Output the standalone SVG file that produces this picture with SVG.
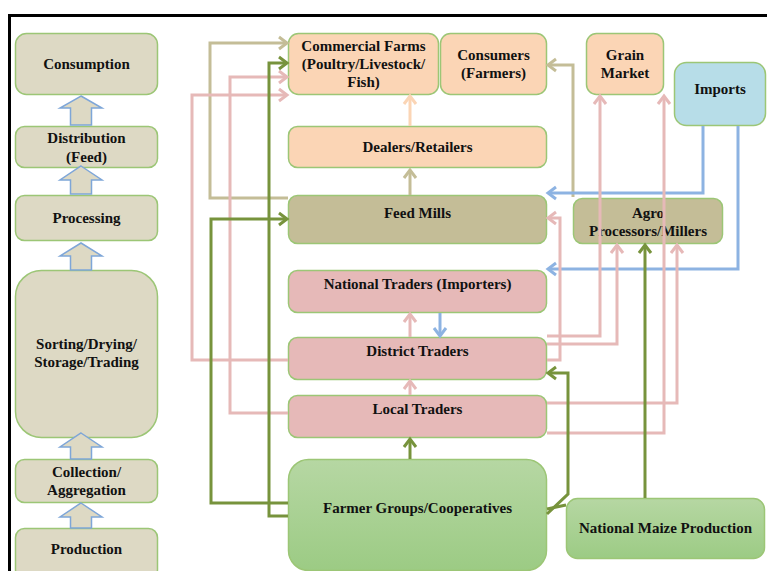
<svg xmlns="http://www.w3.org/2000/svg" width="767" height="571" viewBox="0 0 767 571">
<defs>
<style>
text{font-family:"Liberation Serif","Times New Roman",serif;font-weight:bold;font-size:15px;fill:#111;text-anchor:middle}
.n{stroke:#9cc676;stroke-width:1.5}
.stage{fill:#ddd9c4}
.peach{fill:#fbd5b5}
.pink{fill:#e6b9b8}
.tan{fill:#c4bd97}
.blue{fill:#b7dde8}
.grn{fill:url(#gg)}
.blk{fill:#ddd9c4;stroke:#7ea6d8;stroke-width:1.5}
.c{fill:none;stroke-width:3;stroke-linejoin:miter}
.ct{stroke:#c4bd97}
.cg{stroke:#77933c}
.cp{stroke:#e6b9b8}
.cb{stroke:#8db3e2}
.cpe{stroke:#fbd5b5}
</style>
<linearGradient id="gg" x1="0" y1="0" x2="0" y2="1">
<stop offset="0" stop-color="#b6d7a3"/>
<stop offset="1" stop-color="#9ccb84"/>
</linearGradient>
<marker id="at" markerUnits="userSpaceOnUse" markerWidth="16" markerHeight="16" viewBox="0 0 16 16" refX="13" refY="8" orient="auto"><path d="M5,2 L13,8 L5,14" fill="none" stroke="#c4bd97" stroke-width="3"/></marker>
<marker id="ag" markerUnits="userSpaceOnUse" markerWidth="16" markerHeight="16" viewBox="0 0 16 16" refX="13" refY="8" orient="auto"><path d="M5,2 L13,8 L5,14" fill="none" stroke="#77933c" stroke-width="3"/></marker>
<marker id="ap" markerUnits="userSpaceOnUse" markerWidth="16" markerHeight="16" viewBox="0 0 16 16" refX="13" refY="8" orient="auto"><path d="M5,2 L13,8 L5,14" fill="none" stroke="#e6b9b8" stroke-width="3"/></marker>
<marker id="ab" markerUnits="userSpaceOnUse" markerWidth="16" markerHeight="16" viewBox="0 0 16 16" refX="13" refY="8" orient="auto"><path d="M5,2 L13,8 L5,14" fill="none" stroke="#8db3e2" stroke-width="3"/></marker>
<marker id="ape" markerUnits="userSpaceOnUse" markerWidth="16" markerHeight="16" viewBox="0 0 16 16" refX="13" refY="8" orient="auto"><path d="M5,2 L13,8 L5,14" fill="none" stroke="#fbd5b5" stroke-width="3"/></marker>
</defs>
<rect width="767" height="571" fill="#fff"/>
<path d="M9.5,571 V15.5 H767" fill="none" stroke="#000" stroke-width="3"/>

<g id="stages">
<g id="consumption"><rect class="n stage" x="15.5" y="33.5" width="142" height="61" rx="11"/><text x="86.5" y="69">Consumption</text></g>
<g id="distribution"><rect class="n stage" x="15.5" y="126.5" width="142" height="41" rx="9"/><text x="86.5" y="143">Distribution</text><text x="86.5" y="162">(Feed)</text></g>
<g id="processing"><rect class="n stage" x="15.5" y="195.5" width="142" height="45" rx="9"/><text x="86.5" y="223">Processing</text></g>
<g id="sorting"><rect class="n stage" x="15.5" y="270.5" width="142" height="167" rx="26"/><text x="86.5" y="349">Sorting/Drying/</text><text x="86.5" y="367">Storage/Trading</text></g>
<g id="collection"><rect class="n stage" x="15.5" y="459.5" width="142" height="43" rx="9"/><text x="86.5" y="477">Collection/</text><text x="86.5" y="495">Aggregation</text></g>
<g id="production"><rect class="n stage" x="15.5" y="528.5" width="142" height="50" rx="9"/><text x="86.5" y="554">Production</text></g>
</g>
<g id="stage-arrows">
<path class="blk" d="M81,96 L102,108 L91.5,108 L91.5,125 L70.5,125 L70.5,108 L60,108 Z"/>
<path class="blk" d="M81,166 L102,180 L91.5,180 L91.5,194 L70.5,194 L70.5,180 L60,180 Z"/>
<path class="blk" d="M81,243 L102,256 L91.5,256 L91.5,270 L70.5,270 L70.5,256 L60,256 Z"/>
<path class="blk" d="M81,433 L102,447 L91.5,447 L91.5,459 L70.5,459 L70.5,447 L60,447 Z"/>
<path class="blk" d="M81,503 L102,517 L91.5,517 L91.5,528 L70.5,528 L70.5,517 L60,517 Z"/>
</g>

<g id="commercial-farms"><rect class="n peach" x="288.5" y="33.5" width="150" height="61" rx="10"/><text x="363.5" y="51">Commercial Farms</text><text x="363.5" y="69">(Poultry/Livestock/</text><text x="363.5" y="87">Fish)</text></g>
<g id="consumers"><rect class="n peach" x="440.5" y="33.5" width="106" height="61" rx="10"/><text x="493.5" y="60">Consumers</text><text x="493.5" y="78">(Farmers)</text></g>
<g id="grain-market"><rect class="n peach" x="586.5" y="33.5" width="77" height="61" rx="10"/><text x="625" y="60">Grain</text><text x="625" y="78">Market</text></g>
<g id="imports"><rect class="n blue" x="674.5" y="62.5" width="91" height="63" rx="12"/><text x="720" y="94">Imports</text></g>
<g id="dealers"><rect class="n peach" x="288.5" y="126.5" width="258" height="41" rx="9"/><text x="417.5" y="152">Dealers/Retailers</text></g>
<g id="feed-mills"><rect class="n tan" x="288.5" y="195.5" width="258" height="48" rx="9"/><text x="417.5" y="218">Feed Mills</text></g>
<g id="agro"><rect class="n tan" x="573.5" y="198.5" width="149" height="45" rx="9"/><text x="648" y="218">Agro</text><text x="648" y="236">Processors/Millers</text></g>
<g id="national-traders"><rect class="n pink" x="288.5" y="270.5" width="258" height="42" rx="9"/><text x="417.5" y="289">National Traders (Importers)</text></g>
<g id="district-traders"><rect class="n pink" x="288.5" y="337.5" width="258" height="42" rx="9"/><text x="417.5" y="356">District Traders</text></g>
<g id="local-traders"><rect class="n pink" x="288.5" y="395.5" width="258" height="42" rx="9"/><text x="417.5" y="414">Local Traders</text></g>
<g id="farmer-groups"><rect class="n grn" x="288.5" y="459.5" width="258" height="111" rx="20"/><text x="417.5" y="513">Farmer Groups/Cooperatives</text></g>
<g id="national-maize"><rect class="n grn" x="566.5" y="498.5" width="198" height="60" rx="11"/><text x="665.5" y="533">National Maize Production</text></g>

<g id="connectors">
<path class="c ct" d="M288,198 H210 V43 H287" marker-end="url(#at)"/>
<path class="c ct" d="M410,195 V170" marker-end="url(#at)"/>
<path class="c ct" d="M573,197 V65 H548" marker-end="url(#at)"/>
<path class="c cpe" d="M410,126 V96" marker-end="url(#ape)"/>
<path class="c cb" d="M703,126 V193 H548" marker-end="url(#ab)"/>
<path class="c cb" d="M738,126 V269 H548" marker-end="url(#ab)"/>
<path class="c cb" d="M440,313 V336" marker-end="url(#ab)"/>
<path class="c cp" d="M410,337 V314" marker-end="url(#ap)"/>
<path class="c cp" d="M410,395 V381" marker-end="url(#ap)"/>
<path class="c cp" d="M288,360 H192 V95 H287" marker-end="url(#ap)"/>
<path class="c cp" d="M288,413 H230 V77 H287" marker-end="url(#ap)"/>
<path class="c cp" d="M547,360 H560 V218 H548" marker-end="url(#ap)"/>
<path class="c cp" d="M547,336 H600 V96" marker-end="url(#ap)"/>
<path class="c cp" d="M547,344 H617 V245" marker-end="url(#ap)"/>
<path class="c cp" d="M547,403 H677 V245" marker-end="url(#ap)"/>
<path class="c cp" d="M547,433 H664 V96" marker-end="url(#ap)"/>
<path class="c cg" d="M410,459 V439" marker-end="url(#ag)"/>
<path class="c cg" d="M288,503 H211 V219 H287" marker-end="url(#ag)"/>
<path class="c cg" d="M288,516 H269 V63 H287" marker-end="url(#ag)"/>
<path class="c cg" d="M645,498 V245" marker-end="url(#ag)"/>
<path class="c cg" d="M547,514 L568,494 V373 H548" marker-end="url(#ag)"/>
<path class="c cg" d="M547,509 L566,505"/>
</g>
</svg>
